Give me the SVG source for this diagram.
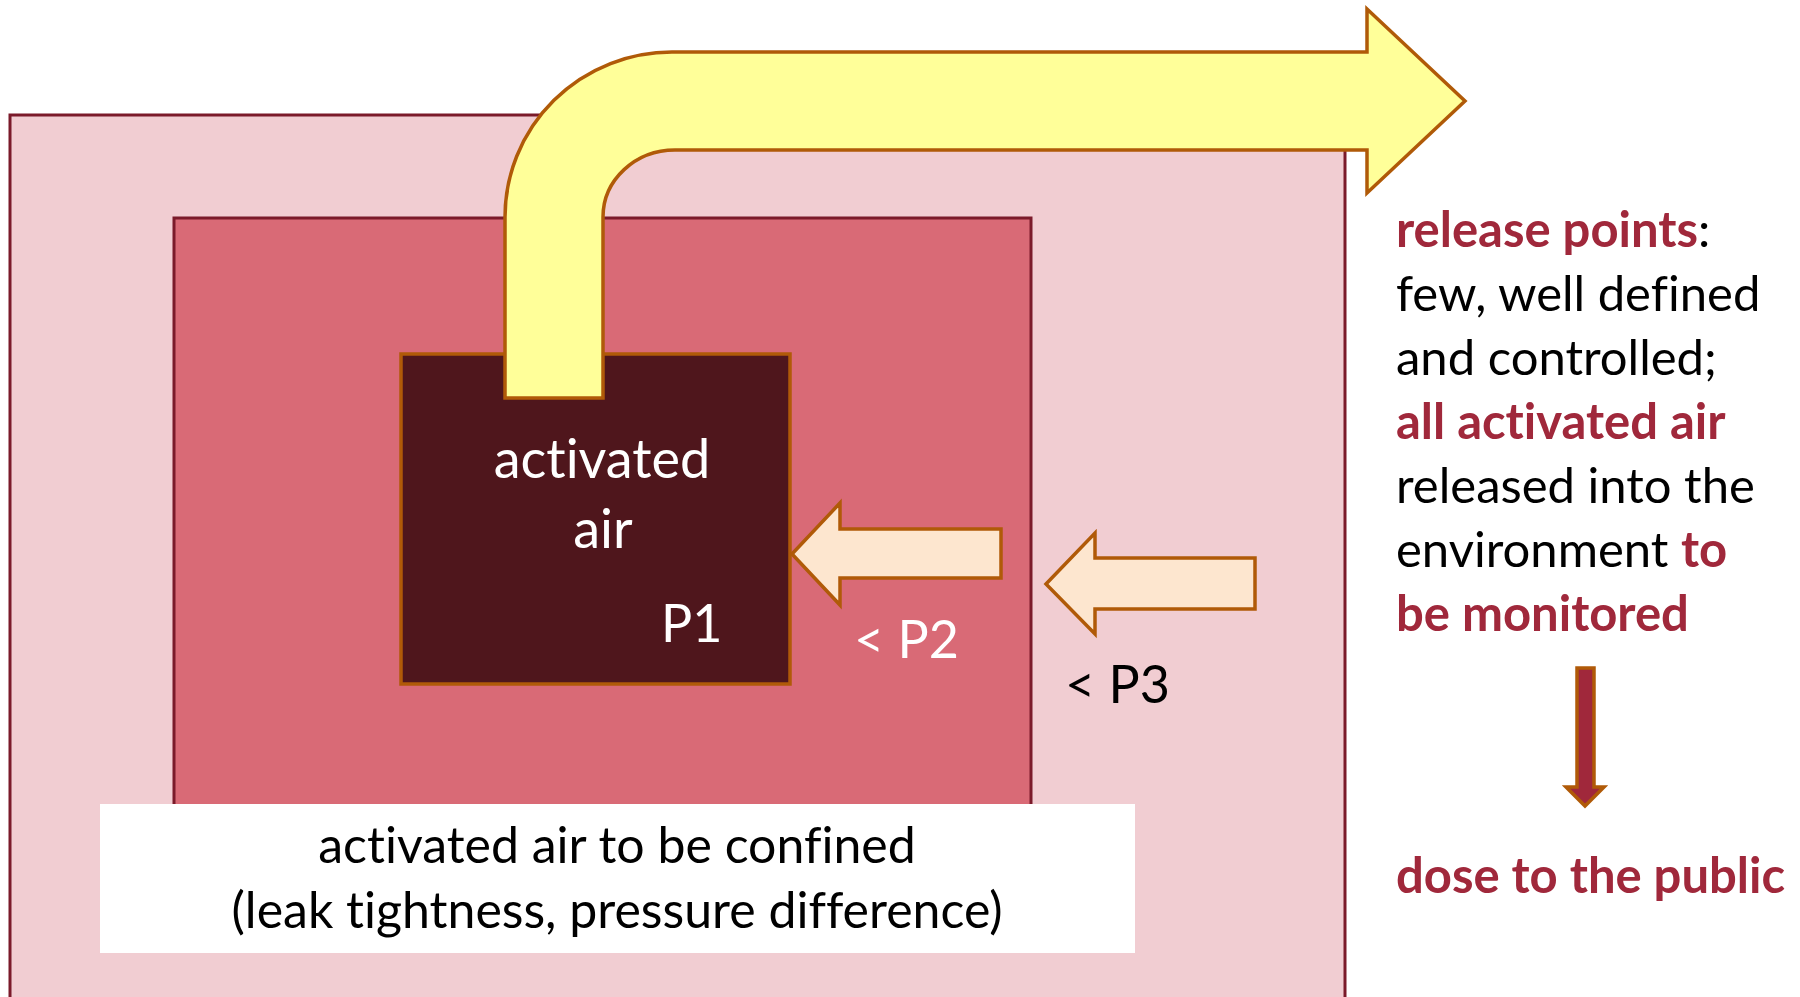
<svg xmlns="http://www.w3.org/2000/svg" width="1800" height="997" viewBox="0 0 1800 997">
<style>
.zone{stroke:#7B1A2A;stroke-width:3}
.arr{stroke:#B05A08;stroke-width:3.5;stroke-linejoin:miter}
.t{font-family:Lato,"Open Sans","Liberation Sans",sans-serif;font-size:50px;font-variant-ligatures:none}
.r{font-size:49px}
.big{font-size:54px}
.p{font-size:52px}
.b{font-weight:bold;fill:#A0283B}
.k{fill:#000}
.w{fill:#fff}
</style>
<rect width="1800" height="997" fill="#fff"/>
<g id="outer-zone">
<rect class="zone" x="10" y="115" width="1335" height="900" fill="#F1CDD2"/>
</g>
<g id="middle-zone">
<rect class="zone" x="174" y="218" width="857" height="620" fill="#D96A76"/>
</g>
<g id="confined-label">
<rect x="100" y="804" width="1035" height="149" fill="#fff"/>
<text class="t k" x="617" y="863" text-anchor="middle">activated air to be confined</text>
<text class="t k" x="617" y="928" text-anchor="middle">(leak tightness, pressure difference)</text>
</g>
<g id="activated-air">
<rect class="arr" x="401" y="354" width="389" height="330" fill="#4F161C"/>
<text class="t big w" x="602" y="478" text-anchor="middle">activated</text>
<text class="t big w" x="603" y="548" text-anchor="middle">air</text>
<text class="t p w" x="661" y="642">P1</text>
</g>
<g id="labels">
<text class="t p w" x="854" y="658">&lt; P2</text>
<text class="t p k" x="1065" y="703">&lt; P3</text>
</g>
<g id="connectors">
<path id="release-arrow" class="arr" fill="#FFFF99" d="M505,398 L505,217 A167,165 0 0 1 672,52 L1367,52 L1367,9 L1465,101 L1367,193 L1367,150 L675,150 A72,67 0 0 0 603,217 L603,398 Z"/>
<path id="p2-arrow" class="arr" fill="#FDE6CF" d="M792,554 L840,503 L840,529 L1001,529 L1001,578 L840,578 L840,605 Z"/>
<path id="p3-arrow" class="arr" fill="#FDE6CF" d="M1046,584 L1095,533 L1095,558 L1255,558 L1255,609 L1095,609 L1095,634 Z"/>
<path id="dose-arrow" class="arr" fill="#A0283B" d="M1577,668 L1594,668 L1594,787 L1604,787 L1585,806 L1566,787 L1577,787 Z"/>
</g>
<g id="release-text">
<text class="t r k" x="1396" y="247"><tspan class="b">release points</tspan>:</text>
<text class="t r k" x="1396" y="311">few, well defined</text>
<text class="t r k" x="1396" y="375">and controlled;</text>
<text class="t r b" x="1396" y="439">all activated air</text>
<text class="t r k" x="1396" y="503">released into the</text>
<text class="t r k" x="1396" y="567">environment <tspan class="b">to</tspan></text>
<text class="t r b" x="1396" y="631">be monitored</text>
</g>
<g id="dose">
<text class="t r b" x="1396" y="893">dose to the public</text>
</g>
</svg>
